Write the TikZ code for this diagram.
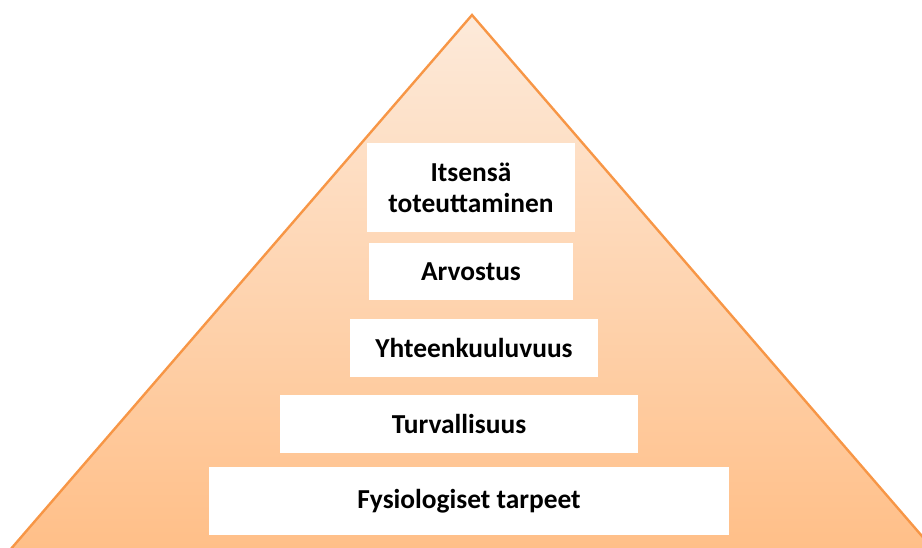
\documentclass[tikz,border=0pt]{standalone}
\usepackage{fontspec}
\setmainfont{Carlito}
\usepackage{tikz}
\definecolor{edgeorange}{RGB}{247,150,70}
\definecolor{toppeach}{RGB}{253,234,218}
\definecolor{basepeach}{RGB}{255,191,136}
\tikzstyle{tier} = [rectangle, fill=white, text centered, align=center, inner sep=0pt,
  font=\fontsize{27.4}{31}\selectfont\bfseries]

\begin{document}
\begin{tikzpicture}[x=1pt, y=-1pt]

\useasboundingbox (0, 0) rectangle (922, 547);
\clip (0, 0) rectangle (922, 547);

\coordinate (apex) at (472, 15);
\coordinate (left) at (10, 550);
\coordinate (right) at (934, 550);
\draw[edgeorange, line width=2.4pt, line join=miter, top color=toppeach, bottom color=basepeach]
  (apex) -- (right) -- (left) -- cycle;

\node[tier, minimum width=208pt, minimum height=89pt] (self) at (471, 187.5) {Itsensä \\ toteuttaminen};
\node[tier, minimum width=204pt, minimum height=57pt] (esteem) at (471, 271.5) {Arvostus};
\node[tier, minimum width=248pt, minimum height=58pt] (belong) at (474, 348) {Yhteenkuuluvuus};
\node[tier, minimum width=358pt, minimum height=58pt] (safety) at (459, 424) {Turvallisuus};
\node[tier, minimum width=520pt, minimum height=68pt] (basic) at (469, 501) {Fysiologiset tarpeet};

\end{tikzpicture}
\end{document}
